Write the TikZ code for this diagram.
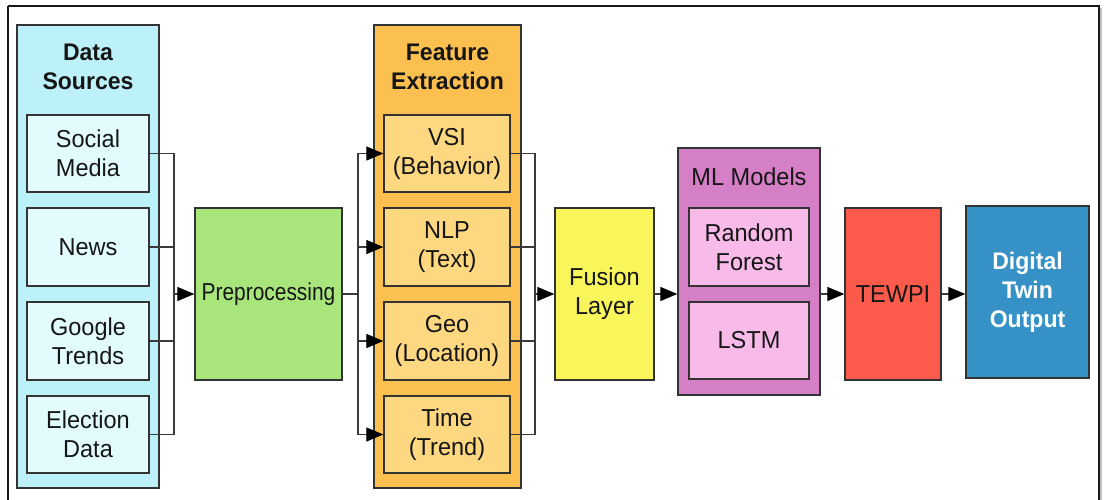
\documentclass[tikz,border=0pt]{standalone}
\usepackage{fontspec}
\usepackage{graphicx}
\setmainfont{Liberation Sans}[FakeStretch=0.96]
\usetikzlibrary{arrows.meta}
\definecolor{dsouter}{HTML}{BDF1F9}
\definecolor{dsinner}{HTML}{E2FBFD}
\definecolor{prefill}{HTML}{A8E67C}
\definecolor{feouter}{HTML}{FBC04F}
\definecolor{feinner}{HTML}{FDD880}
\definecolor{fusfill}{HTML}{F8F65A}
\definecolor{mlouter}{HTML}{D47FC6}
\definecolor{mlinner}{HTML}{F8BAE9}
\definecolor{tewfill}{HTML}{FC5B4B}
\definecolor{dtfill}{HTML}{3692C6}
\definecolor{edge}{HTML}{333333}
\definecolor{wire}{HTML}{3A3A3A}
\definecolor{ink}{HTML}{161616}
\begin{document}
\begin{tikzpicture}[x=1pt,y=-1pt,
  every node/.style={font=\fontsize{24.5}{29}\selectfont, text=ink, align=center, inner sep=0pt},
  box/.style={draw=edge, line width=1.3pt, rectangle},
  group/.style={box},
  title/.style={font=\fontsize{24}{29}\selectfont\bfseries},
  wireline/.style={draw=wire, line width=1.2pt},
  flow/.style={wireline, -{Triangle[length=17pt,width=14pt,color=black]}}
]
\useasboundingbox (0,0) rectangle (1104,499);
\fill[white] (0,0) rectangle (1104,499);
% outer frame (its bottom edge lies below the page)
\draw[line width=3pt, black!25] (1100.5,8) -- (1100.5,515);
\draw[line width=2pt, black!90] (8,6) -- (1099,6) -- (1099,515);
\draw[line width=2pt, black!90] (8,6) -- (8,515);

% --- Data sources column
\node[group, fill=dsouter, minimum width=142, minimum height=463] (ds) at (88,256.5) {};
\node[title] (dstitle) at (88,67) {Data\\Sources};
\node[box, fill=dsinner, minimum width=122, minimum height=77] (sm) at (88,153.5) {Social\\Media};
\node[box, fill=dsinner, minimum width=122, minimum height=78] (news) at (88,247) {News};
\node[box, fill=dsinner, minimum width=122, minimum height=78] (gt) at (88,341) {Google\\Trends};
\node[box, fill=dsinner, minimum width=122, minimum height=77] (ed) at (88,434.5) {Election\\Data};

% --- Preprocessing
\node[box, fill=prefill, minimum width=147, minimum height=172] (pre) at (268.5,294) {\scalebox{0.89}[1]{Preprocessing}};

% --- Feature extraction column
\node[group, fill=feouter, minimum width=147, minimum height=463] (fe) at (447.5,256.5) {};
\node[title] (fetitle) at (447.5,67) {Feature\\Extraction};
\node[box, fill=feinner, minimum width=126, minimum height=77] (vsi) at (447,153.5) {VSI\\(Behavior)};
\node[box, fill=feinner, minimum width=126, minimum height=78] (nlp) at (447,247) {NLP\\(Text)};
\node[box, fill=feinner, minimum width=126, minimum height=78] (geo) at (447,341) {Geo\\(Location)};
\node[box, fill=feinner, minimum width=126, minimum height=77] (time) at (447,434.5) {Time\\(Trend)};

% --- Fusion
\node[box, fill=fusfill, minimum width=99, minimum height=172] (fus) at (604.5,294) {Fusion\\Layer};

% --- ML models
\node[group, fill=mlouter, minimum width=142, minimum height=247] (ml) at (749,271.5) {};
\node (mltitle) at (749,177) {ML Models};
\node[box, fill=mlinner, minimum width=120, minimum height=78] (rf) at (749,247) {Random\\Forest};
\node[box, fill=mlinner, minimum width=120, minimum height=77] (lstm) at (749,340.5) {LSTM};

% --- TEWPI and output
\node[box, fill=tewfill, minimum width=96, minimum height=172] (tew) at (893,294) {TEWPI};
\node[box, fill=dtfill, minimum width=123, minimum height=172, text=white, font=\fontsize{24}{29}\selectfont\bfseries] (dt) at (1027.5,292) {Digital\\Twin\\Output};

% --- connectors: sources merge into preprocessing
\coordinate (busA) at (174,294);
\foreach \n in {sm,news,gt,ed}{
  \draw[wireline] (\n.east) -| (busA);
}
\draw[flow] (busA) -- (pre.west);

% --- preprocessing fans out to the feature extractors
\coordinate (busB) at (358,294);
\draw[wireline] (pre.east) -- (busB);
\foreach \n in {vsi,nlp,geo,time}{
  \draw[flow] (busB) |- (\n.west);
}

% --- feature extractors merge into fusion
\coordinate (busC) at (535,294);
\foreach \n in {vsi,nlp,geo,time}{
  \draw[wireline] (\n.east) -| (busC);
}
\draw[flow] (busC) -- (fus.west);

% --- main chain
\draw[flow] (fus.east) -- (ml.west |- fus.east);
\draw[flow] (ml.east |- tew.west) -- (tew.west);
\draw[flow] (tew.east) -- (dt.west |- tew.east);
\end{tikzpicture}
\end{document}
